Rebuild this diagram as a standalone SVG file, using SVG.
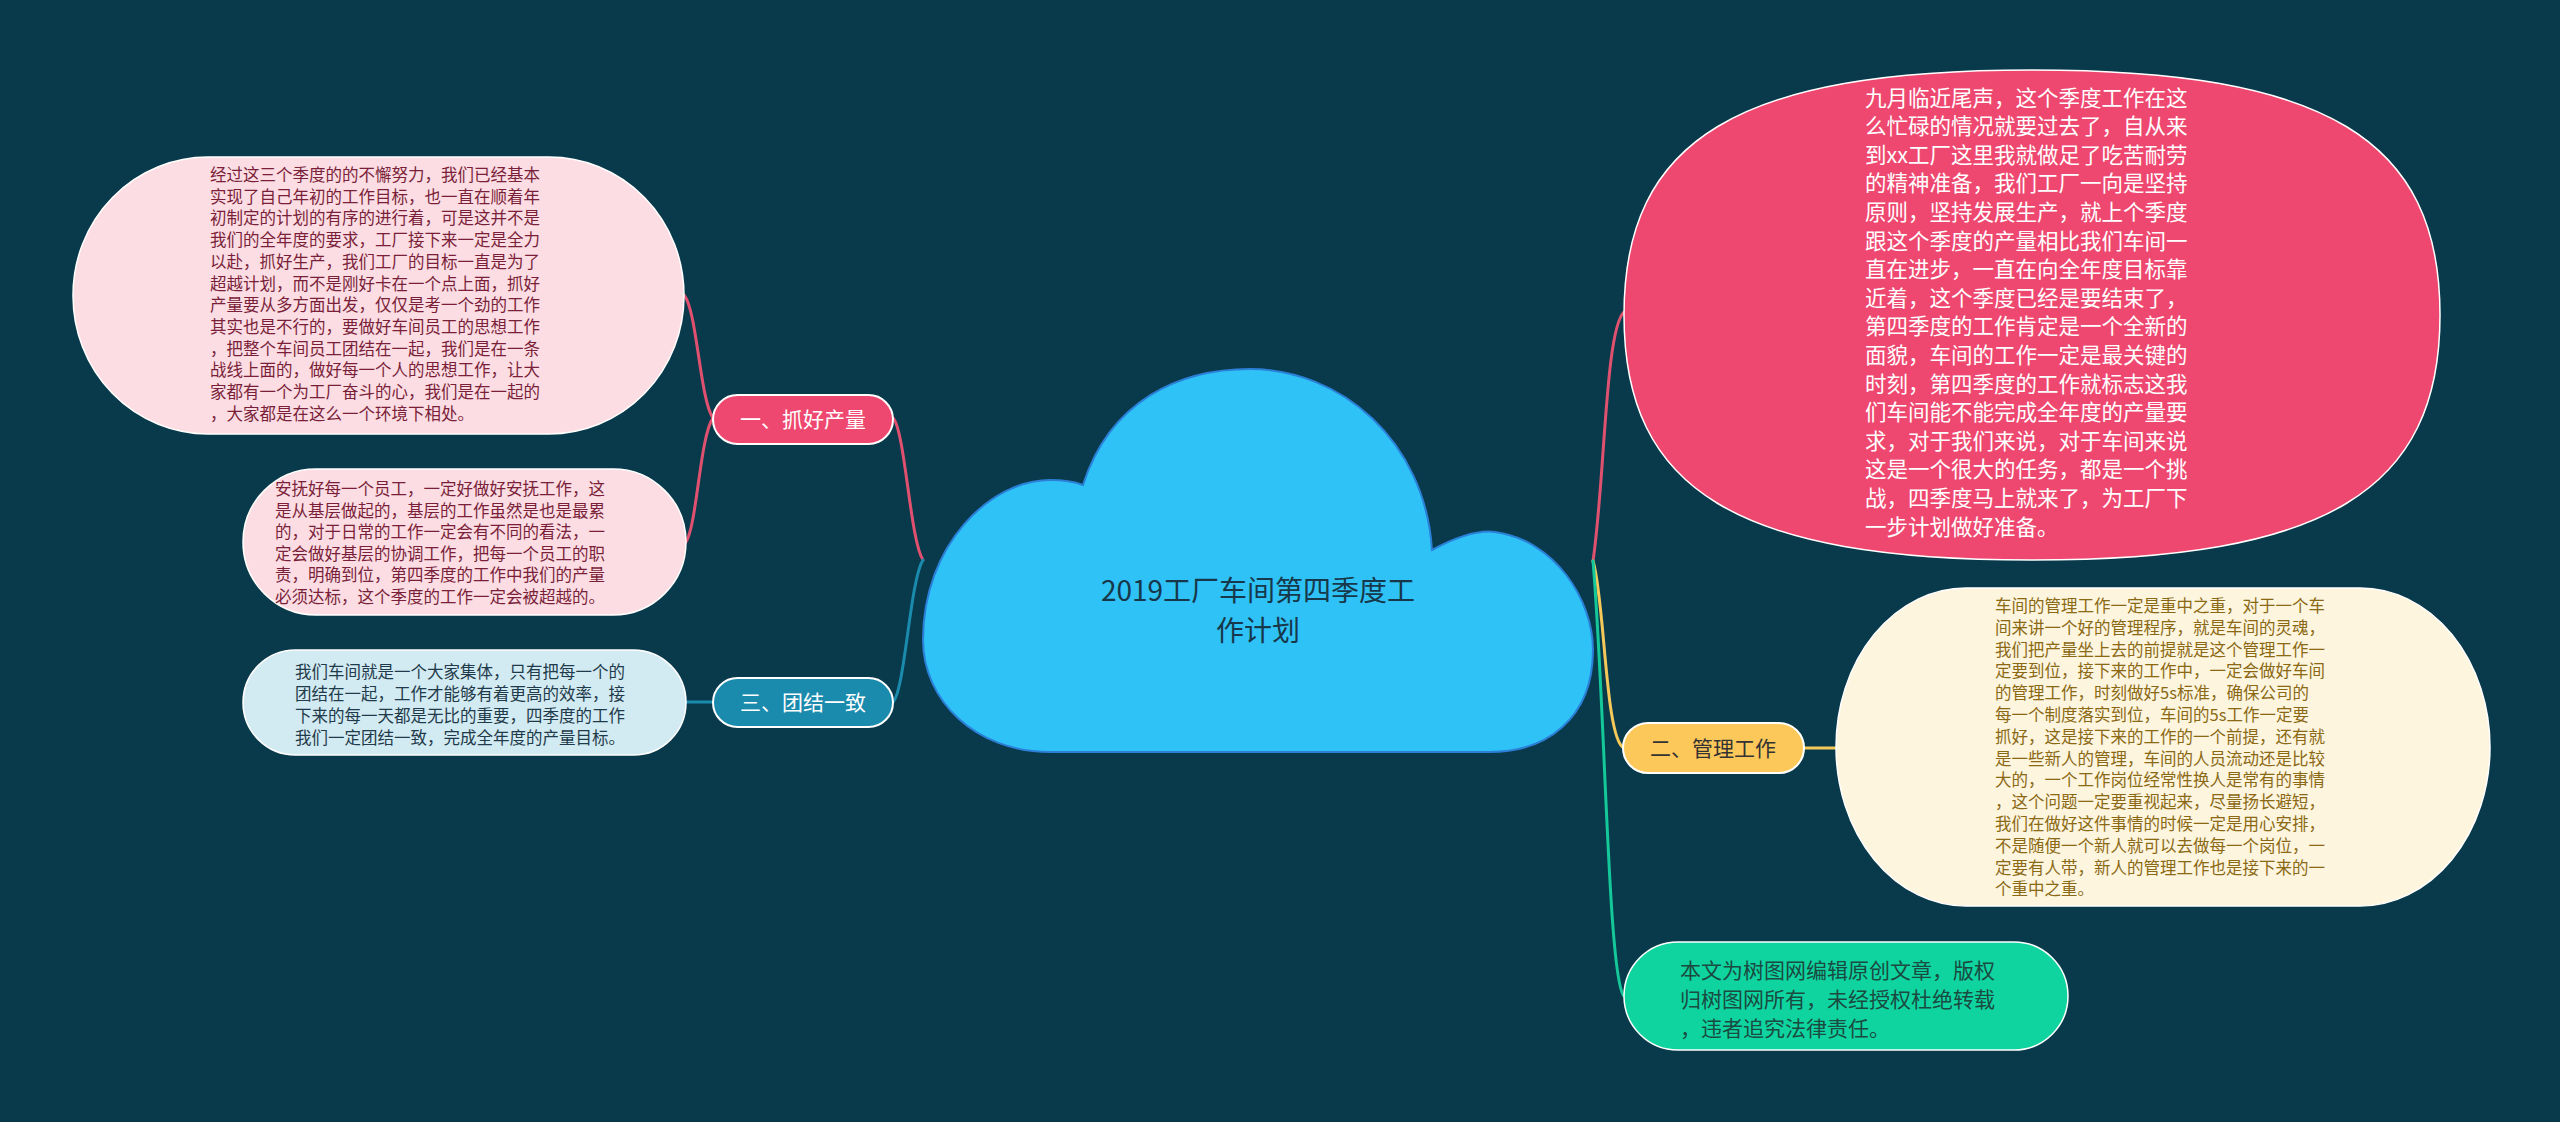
<svg xmlns="http://www.w3.org/2000/svg" width="2560" height="1122" viewBox="0 0 2560 1122">
<style>
text{font-family:"Noto Sans CJK SC","Noto Sans",sans-serif;}
.line{fill:none;stroke-width:3;stroke-linecap:round;}
.nd{stroke:#ffffff;stroke-width:1.5;}
.lb{stroke:#ffffff;stroke-width:2;}
.t16{font-size:16.5px;}
.t21{font-size:21.5px;}
.lbt{font-size:21px;text-anchor:middle;}
</style>
<rect x="0" y="0" width="2560" height="1122" fill="#083a4b"/>
<g id="connectors">
<path class="line" stroke="#e0506f" d="M923 560 C910 540 905 430 893 418"/>
<path class="line" stroke="#1a8aad" d="M923 560 C910 580 905 690 893 702"/>
<path class="line" stroke="#e0506f" d="M713 418 C700 400 697 310 684 295"/>
<path class="line" stroke="#e0506f" d="M713 418 C700 436 697 525 686 542"/>
<path class="line" stroke="#1a8aad" d="M713 702 L686 702"/>
<path class="line" stroke="#e0506f" d="M1593 561 C1605 480 1605 330 1624 312"/>
<path class="line" stroke="#f5c85a" d="M1593 561 C1605 600 1605 740 1624 748"/>
<path class="line" stroke="#14c89a" d="M1593 561 C1605 700 1608 980 1624 996"/>
<path class="line" stroke="#f5c85a" d="M1804 748 L1837 748"/>
</g>
<g id="center">
<path d="M1083 485 C1110 400 1180 369 1250 369 C1340 369 1425 440 1432 550 C1460 535 1480 530 1495 532 C1555 540 1593 600 1593 650 C1593 720 1545 752 1490 752 L1050 752 C975 752 923 700 923 640 C923 545 990 480 1050 480 C1065 480 1075 482 1083 485 Z" fill="#2fc2f6" stroke="#2b7fd6" stroke-width="2"/>
<text x="1258" y="601" font-size="28" fill="#17374a" text-anchor="middle">2019工厂车间第四季度工</text>
<text x="1258" y="641" font-size="28" fill="#17374a" text-anchor="middle">作计划</text>
</g>
<g id="label1">
<rect class="lb" x="713" y="395" width="180" height="49" rx="24.5" fill="#ef4870"/>
<text class="lbt" x="803" y="427" fill="#ffffff">一、抓好产量</text>
</g>
<g id="label3">
<rect class="lb" x="713" y="678" width="180" height="49" rx="24.5" fill="#1a8aad"/>
<text class="lbt" x="803" y="710" fill="#ffffff">三、团结一致</text>
</g>
<g id="label2">
<rect class="lb" x="1623" y="723" width="181" height="50" rx="25" fill="#fdc85a"/>
<text class="lbt" x="1713" y="756" fill="#333333">二、管理工作</text>
</g>
<g id="node1">
<rect class="nd" x="73" y="157" width="611" height="277" rx="135" ry="138" fill="#fcdde3"/>
<g class="t16" fill="#7a1f3a">
<text x="210" y="181">经过这三个季度的的不懈努力，我们已经基本</text>
<text x="210" y="202.7">实现了自己年初的工作目标，也一直在顺着年</text>
<text x="210" y="224.4">初制定的计划的有序的进行着，可是这并不是</text>
<text x="210" y="246.1">我们的全年度的要求，工厂接下来一定是全力</text>
<text x="210" y="267.8">以赴，抓好生产，我们工厂的目标一直是为了</text>
<text x="210" y="289.5">超越计划，而不是刚好卡在一个点上面，抓好</text>
<text x="210" y="311.2">产量要从多方面出发，仅仅是考一个劲的工作</text>
<text x="210" y="332.9">其实也是不行的，要做好车间员工的思想工作</text>
<text x="210" y="354.6">，把整个车间员工团结在一起，我们是在一条</text>
<text x="210" y="376.3">战线上面的，做好每一个人的思想工作，让大</text>
<text x="210" y="398">家都有一个为工厂奋斗的心，我们是在一起的</text>
<text x="210" y="419.7">，大家都是在这么一个环境下相处。</text>
</g>
</g>
<g id="node2">
<rect class="nd" x="243" y="469" width="443" height="146" rx="73" fill="#fcdde3"/>
<g class="t16" fill="#7a1f3a">
<text x="275" y="495">安抚好每一个员工，一定好做好安抚工作，这</text>
<text x="275" y="516.6">是从基层做起的，基层的工作虽然是也是最累</text>
<text x="275" y="538.2">的，对于日常的工作一定会有不同的看法，一</text>
<text x="275" y="559.8">定会做好基层的协调工作，把每一个员工的职</text>
<text x="275" y="581.4">责，明确到位，第四季度的工作中我们的产量</text>
<text x="275" y="603">必须达标，这个季度的工作一定会被超越的。</text>
</g>
</g>
<g id="node3">
<rect class="nd" x="243" y="650" width="443" height="105" rx="52.5" fill="#d2eaf2"/>
<g class="t16" fill="#1f3a4a">
<text x="295" y="678">我们车间就是一个大家集体，只有把每一个的</text>
<text x="295" y="700">团结在一起，工作才能够有着更高的效率，接</text>
<text x="295" y="722">下来的每一天都是无比的重要，四季度的工作</text>
<text x="295" y="744">我们一定团结一致，完成全年度的产量目标。</text>
</g>
</g>
<g id="node4">
<path class="nd" d="M2032 70 C2326 70 2440 139 2440 315 C2440 491 2326 560 2032 560 C1738 560 1624 491 1624 315 C1624 139 1738 70 2032 70 Z" fill="#ef4870"/>
<g class="t21" fill="#ffffff">
<text x="1865" y="105.5">九月临近尾声，这个季度工作在这</text>
<text x="1865" y="134.1">么忙碌的情况就要过去了，自从来</text>
<text x="1865" y="162.7">到xx工厂这里我就做足了吃苦耐劳</text>
<text x="1865" y="191.3">的精神准备，我们工厂一向是坚持</text>
<text x="1865" y="219.9">原则，坚持发展生产，就上个季度</text>
<text x="1865" y="248.5">跟这个季度的产量相比我们车间一</text>
<text x="1865" y="277.1">直在进步，一直在向全年度目标靠</text>
<text x="1865" y="305.7">近着，这个季度已经是要结束了，</text>
<text x="1865" y="334.3">第四季度的工作肯定是一个全新的</text>
<text x="1865" y="362.9">面貌，车间的工作一定是最关键的</text>
<text x="1865" y="391.5">时刻，第四季度的工作就标志这我</text>
<text x="1865" y="420.1">们车间能不能完成全年度的产量要</text>
<text x="1865" y="448.7">求，对于我们来说，对于车间来说</text>
<text x="1865" y="477.3">这是一个很大的任务，都是一个挑</text>
<text x="1865" y="505.9">战，四季度马上就来了，为工厂下</text>
<text x="1865" y="534.5">一步计划做好准备。</text>
</g>
</g>
<g id="node5">
<rect class="nd" x="1836" y="588" width="654" height="318" rx="130" ry="159" fill="#fdf5de"/>
<g class="t16" fill="#8b6914">
<text x="1995" y="612">车间的管理工作一定是重中之重，对于一个车</text>
<text x="1995" y="633.8">间来讲一个好的管理程序，就是车间的灵魂，</text>
<text x="1995" y="655.6">我们把产量坐上去的前提就是这个管理工作一</text>
<text x="1995" y="677.4">定要到位，接下来的工作中，一定会做好车间</text>
<text x="1995" y="699.2">的管理工作，时刻做好5s标准，确保公司的</text>
<text x="1995" y="721">每一个制度落实到位，车间的5s工作一定要</text>
<text x="1995" y="742.8">抓好，这是接下来的工作的一个前提，还有就</text>
<text x="1995" y="764.6">是一些新人的管理，车间的人员流动还是比较</text>
<text x="1995" y="786.4">大的，一个工作岗位经常性换人是常有的事情</text>
<text x="1995" y="808.2">，这个问题一定要重视起来，尽量扬长避短，</text>
<text x="1995" y="830">我们在做好这件事情的时候一定是用心安排，</text>
<text x="1995" y="851.8">不是随便一个新人就可以去做每一个岗位，一</text>
<text x="1995" y="873.6">定要有人带，新人的管理工作也是接下来的一</text>
<text x="1995" y="895.4">个重中之重。</text>
</g>
</g>
<g id="node6">
<rect class="nd" x="1624" y="942" width="444" height="108" rx="54" fill="#10d4a0"/>
<g font-size="21" fill="#1a4a40">
<text x="1680" y="977.5">本文为树图网编辑原创文章，版权</text>
<text x="1680" y="1006.5">归树图网所有，未经授权杜绝转载</text>
<text x="1680" y="1035.5">，违者追究法律责任。</text>
</g>
</g>
</svg>
